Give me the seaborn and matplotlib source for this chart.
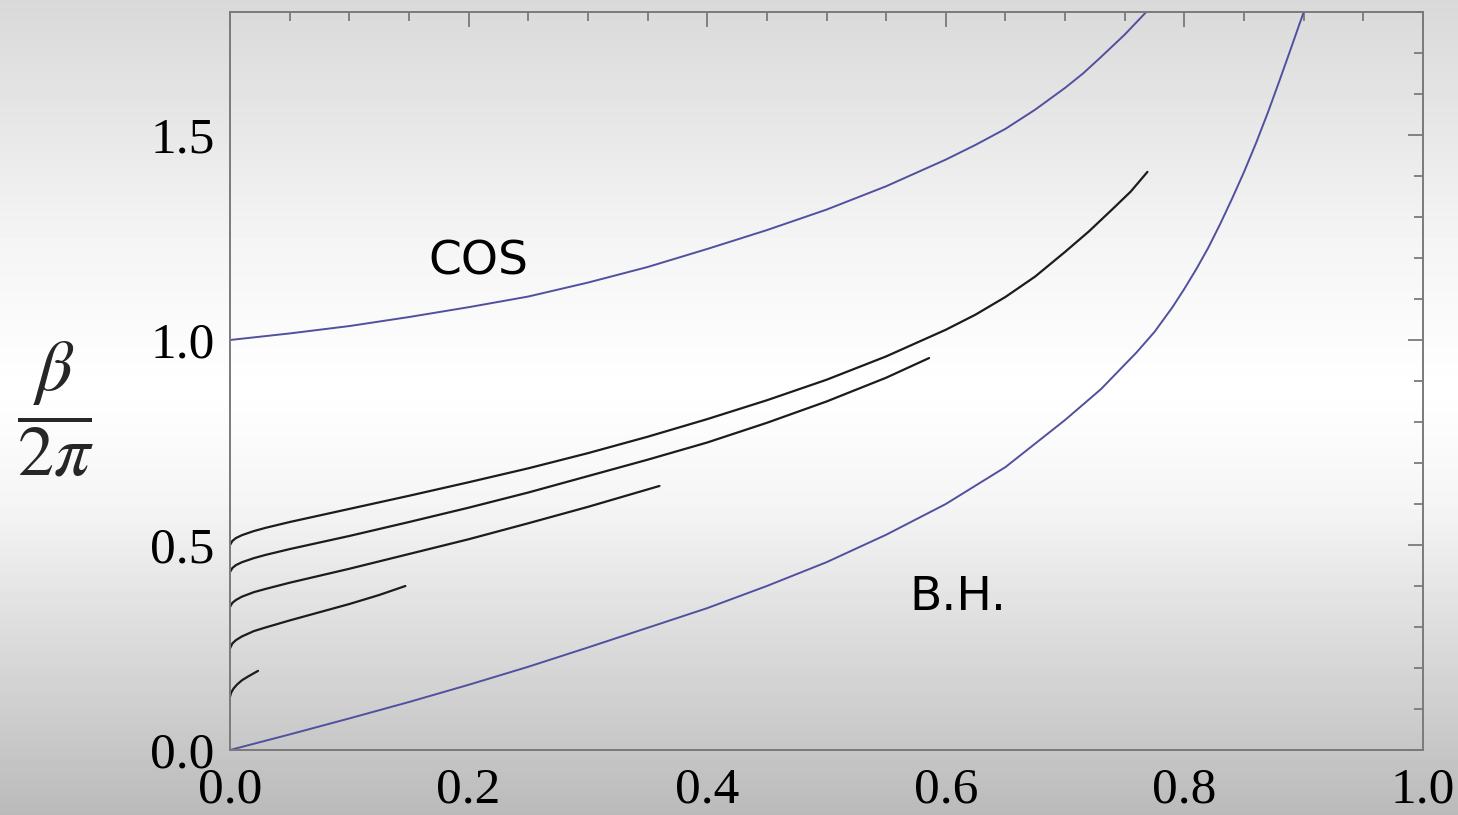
import numpy as np
import pandas as pd
import matplotlib
matplotlib.use("Agg")
import matplotlib.pyplot as plt
import seaborn as sns
from matplotlib.ticker import MultipleLocator

# ---- data ----
cos_x = [0.0, 0.05, 0.10, 0.15, 0.20, 0.25, 0.30, 0.35, 0.40, 0.45, 0.50, 0.55, 0.60, 0.625, 0.65, 0.675, 0.70, 0.715, 0.73, 0.75, 0.768]
cos_y = [1.000, 1.016, 1.034, 1.056, 1.080, 1.106, 1.140, 1.178, 1.222, 1.268, 1.318, 1.375, 1.440, 1.476, 1.515, 1.562, 1.615, 1.650, 1.690, 1.745, 1.800]

bh_x = [0.0, 0.05, 0.10, 0.15, 0.20, 0.25, 0.30, 0.35, 0.40, 0.45, 0.50, 0.55, 0.60, 0.65, 0.70, 0.73, 0.76, 0.775, 0.79,
        0.80, 0.81, 0.82, 0.83, 0.84, 0.85, 0.86, 0.87, 0.88, 0.89, 0.90]
bh_y = [0.0, 0.038, 0.077, 0.117, 0.159, 0.203, 0.250, 0.298, 0.346, 0.400, 0.458, 0.525, 0.600, 0.690, 0.805, 0.880, 0.970, 1.020, 1.080,
        1.125, 1.173, 1.225, 1.283, 1.345, 1.410, 1.480, 1.555, 1.635, 1.717, 1.800]

a_x = [0.0, 0.002, 0.005, 0.01, 0.02, 0.03, 0.05, 0.075, 0.10, 0.15, 0.20, 0.25, 0.30, 0.35, 0.40, 0.45, 0.50, 0.55, 0.60,
       0.625, 0.65, 0.675, 0.70, 0.72, 0.74, 0.755, 0.769]
a_y = [0.500, 0.510, 0.517, 0.524, 0.534, 0.542, 0.556, 0.572, 0.588, 0.620, 0.653, 0.687, 0.724, 0.764, 0.807, 0.853, 0.903, 0.960, 1.025,
       1.062, 1.105, 1.155, 1.215, 1.265, 1.320, 1.362, 1.410]

b_x = [0.0, 0.002, 0.005, 0.01, 0.02, 0.03, 0.05, 0.075, 0.10, 0.15, 0.20, 0.25, 0.30, 0.35, 0.40, 0.45, 0.50, 0.55, 0.586]
b_y = [0.434, 0.444, 0.451, 0.458, 0.468, 0.476, 0.490, 0.506, 0.522, 0.556, 0.591, 0.628, 0.668, 0.708, 0.750, 0.798, 0.850, 0.908, 0.956]

c_x = [0.0, 0.002, 0.005, 0.01, 0.02, 0.03, 0.05, 0.075, 0.10, 0.15, 0.20, 0.25, 0.30, 0.36]
c_y = [0.349, 0.359, 0.366, 0.374, 0.385, 0.393, 0.408, 0.425, 0.442, 0.478, 0.514, 0.553, 0.593, 0.644]

d_x = [0.0, 0.002, 0.005, 0.01, 0.02, 0.03, 0.05, 0.075, 0.10, 0.125, 0.147]
d_y = [0.248, 0.260, 0.268, 0.277, 0.290, 0.299, 0.316, 0.336, 0.356, 0.378, 0.400]

e_x = [0.0, 0.001, 0.003, 0.006, 0.01, 0.015, 0.0235]
e_y = [0.130, 0.140, 0.150, 0.160, 0.170, 0.179, 0.193]

x_ticks = [0.0, 0.2, 0.4, 0.6, 0.8, 1.0]
y_ticks = [0.0, 0.5, 1.0, 1.5]
x_ticklabels = ["0.0", "0.2", "0.4", "0.6", "0.8", "1.0"]
y_ticklabels = ["0.0", "0.5", "1.0", "1.5"]

labels = {"COS": (0.208, 1.19), "B.H.": (0.610, 0.372)}

# ---- figure ----
sns.set_theme(style="white")
plt.rcParams["font.family"] = ["Liberation Serif", "DejaVu Serif"]
plt.rcParams["mathtext.fontset"] = "stix"

fig = plt.figure(figsize=(14.58, 8.15), dpi=100)

# gradient background
bg = fig.add_axes([0, 0, 1, 1], zorder=-10)
rows = np.linspace(0, 1, 815)
stops_pos = [0.0, 0.30, 0.48, 0.62, 1.0]
stops_val = [0.85, 0.96, 1.0, 0.96, 0.73]
col = np.interp(rows, stops_pos, stops_val)
img = np.repeat(col[:, None], 4, axis=1)
bg.imshow(img, cmap="gray", vmin=0, vmax=1, aspect="auto", extent=[0, 1, 0, 1], origin="upper")
bg.set_axis_off()

ax = fig.add_axes([230 / 1458, 1 - 750 / 815, (1423 - 230) / 1458, (750 - 12) / 815])
ax.set_facecolor("none")

blue = "#50509f"
black = "#1c1c1c"
for xs, ys in [(cos_x, cos_y), (bh_x, bh_y)]:
    sns.lineplot(x=xs, y=ys, ax=ax, color=blue, lw=1.4, sort=False, estimator=None)
for xs, ys in [(a_x, a_y), (b_x, b_y), (c_x, c_y), (d_x, d_y), (e_x, e_y)]:
    sns.lineplot(x=xs, y=ys, ax=ax, color=black, lw=1.6, sort=False, estimator=None)

ax.set_xlim(0, 1.0)
ax.set_ylim(0, 1.8)
ax.set_xticks(x_ticks)
ax.set_xticklabels(x_ticklabels)
ax.set_yticks(y_ticks)
ax.set_yticklabels(y_ticklabels)
ax.xaxis.set_minor_locator(MultipleLocator(0.05))
ax.yaxis.set_minor_locator(MultipleLocator(0.1))

grey = "#7a7a7a"
for s in ax.spines.values():
    s.set_color(grey)
    s.set_linewidth(1.4)
ax.tick_params(which="both", direction="in", top=True, right=True, color=grey, width=1.3,
               labelsize=37, labelcolor="black")
ax.tick_params(which="major", length=10.5)
ax.tick_params(which="minor", length=6.5)
ax.tick_params(axis="x", which="major", pad=12)
ax.tick_params(axis="y", which="major", pad=11)

ax.set_ylabel(r"$\dfrac{\beta}{2\pi}$", rotation=0, fontsize=52, labelpad=0, va="center", ha="center")
ax.yaxis.set_label_coords(-0.146, 0.462)

for txt, (tx, ty) in labels.items():
    ax.text(tx, ty, txt, fontsize=34, family=["DejaVu Sans"], color="black",
            ha="center", va="center")

fig.savefig("out.png", dpi=100)
